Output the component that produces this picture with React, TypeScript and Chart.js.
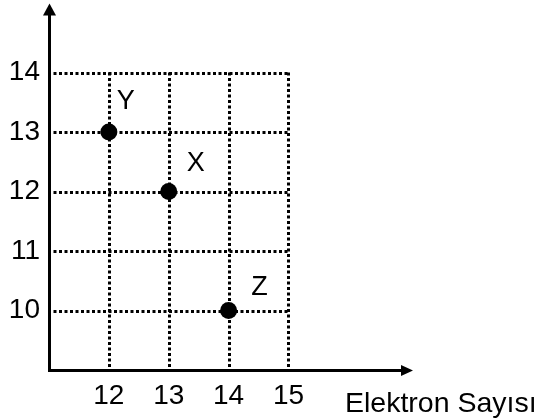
import React, { useEffect, useRef } from "react";
import { Chart, registerables } from "chart.js";

Chart.register(...registerables);

// ---- data ----
const elementNames = ["Y", "X", "Z"];
const electronCounts = [12, 13, 14];
const yValues = [13, 12, 10];
const xTickValues = [12, 13, 14, 15];
const yTickValues = [10, 11, 12, 13, 14];
const xAxisTitle = "Elektron Sayısı";

// label offsets (pixels) for point names
const labelOffsets = [
  [17, -30],
  [27, -28],
  [31, -23],
];

const FONT = '"Liberation Sans", Arial, Helvetica, sans-serif';

const decorPlugin = {
  id: "decor",
  beforeDatasetsDraw(chart: any) {
    const { ctx, chartArea, scales } = chart;
    const xs = scales.x;
    const ys = scales.y;
    const left = Math.round(chartArea.left) + 0.5;
    const bottom = Math.round(chartArea.bottom) + 0.5;
    const top = chartArea.top - 5;
    const right = chartArea.right;
    const xEnd = xs.getPixelForValue(xTickValues[xTickValues.length - 1]);
    const yEnd = ys.getPixelForValue(yTickValues[yTickValues.length - 1]);
    ctx.save();
    ctx.strokeStyle = "#000";
    ctx.lineWidth = 3;
    ctx.setLineDash([3, 2.5]);
    yTickValues.forEach((v) => {
      const y = Math.round(ys.getPixelForValue(v)) + 0.5;
      ctx.beginPath();
      ctx.moveTo(left + 4, y);
      ctx.lineTo(xEnd, y);
      ctx.stroke();
    });
    xTickValues.forEach((v) => {
      const x = Math.round(xs.getPixelForValue(v)) + 0.5;
      ctx.beginPath();
      ctx.moveTo(x, yEnd);
      ctx.lineTo(x, bottom - 3);
      ctx.stroke();
    });
    ctx.setLineDash([]);
    // axes
    ctx.lineWidth = 3;
    ctx.beginPath();
    ctx.moveTo(left, bottom + 1.5);
    ctx.lineTo(left, top + 10);
    ctx.stroke();
    ctx.beginPath();
    ctx.moveTo(left - 1.5, bottom);
    ctx.lineTo(right - 10, bottom);
    ctx.stroke();
    // arrowheads
    ctx.fillStyle = "#000";
    ctx.beginPath();
    ctx.moveTo(left, top);
    ctx.lineTo(left - 6.5, top + 12);
    ctx.lineTo(left + 6.5, top + 12);
    ctx.closePath();
    ctx.fill();
    ctx.beginPath();
    ctx.moveTo(right, bottom);
    ctx.lineTo(right - 12, bottom - 5.5);
    ctx.lineTo(right - 12, bottom + 5.5);
    ctx.closePath();
    ctx.fill();
    ctx.restore();
  },
  afterDatasetsDraw(chart: any) {
    const { ctx, chartArea, scales } = chart;
    const xs = scales.x;
    const ys = scales.y;
    ctx.save();
    ctx.fillStyle = "#000";
    ctx.font = `27px ${FONT}`;
    ctx.textAlign = "center";
    ctx.textBaseline = "middle";
    elementNames.forEach((name, i) => {
      const px = xs.getPixelForValue(electronCounts[i]);
      const py = ys.getPixelForValue(yValues[i]);
      ctx.fillText(name, px + labelOffsets[i][0], py + labelOffsets[i][1]);
    });
    ctx.font = `28.5px ${FONT}`;
    ctx.textAlign = "left";
    ctx.textBaseline = "alphabetic";
    ctx.fillText(xAxisTitle, chartArea.right - 68, chartArea.bottom + 42);
    ctx.restore();
  },
};

export default function App() {
  const canvasRef = useRef<HTMLCanvasElement | null>(null);

  useEffect(() => {
    const canvas = canvasRef.current;
    if (!canvas) return;
    const chart = new Chart(canvas, {
      type: "scatter",
      data: {
        datasets: [
          {
            data: electronCounts.map((x, i) => ({ x, y: yValues[i] })),
            backgroundColor: "#000",
            borderColor: "#000",
            borderWidth: 0,
            pointRadius: 8.5,
            pointHoverRadius: 8.5,
          },
        ],
      },
      options: {
        animation: false,
        responsive: false,
        maintainAspectRatio: false,
        layout: { padding: { top: 0, right: 128, left: 0, bottom: 0 } },
        plugins: {
          legend: { display: false },
          tooltip: { enabled: false },
        },
        scales: {
          x: {
            type: "linear",
            min: 11,
            max: 17.08,
            grid: { display: false, drawTicks: false },
            border: { display: false },
            afterBuildTicks: (s: any) => {
              s.ticks = xTickValues.map((v) => ({ value: v }));
            },
            afterFit: (s: any) => {
              s.height = 49;
              s.paddingLeft = 0;
              s.paddingRight = 0;
            },
            ticks: {
              font: { family: FONT, size: 28 },
              color: "#000",
              padding: 9,
              maxRotation: 0,
              autoSkip: false,
            },
          },
          y: {
            type: "linear",
            min: 9,
            max: 15.076,
            grid: { display: false, drawTicks: false },
            border: { display: false },
            afterBuildTicks: (s: any) => {
              s.ticks = yTickValues.map((v) => ({ value: v }));
            },
            afterFit: (s: any) => {
              s.width = 49;
              s.paddingTop = 0;
              s.paddingBottom = 0;
            },
            ticks: {
              font: { family: FONT, size: 28 },
              color: "#000",
              padding: 9,
              autoSkip: false,
            },
          },
        },
      },
      plugins: [decorPlugin],
    } as any);
    return () => chart.destroy();
  }, []);

  return (
    <div style={{ position: "absolute", left: 0, top: 0, width: 541, height: 419, background: "#fff" }}>
      <canvas ref={canvasRef} width={541} height={419} style={{ display: "block" }} />
    </div>
  );
}
